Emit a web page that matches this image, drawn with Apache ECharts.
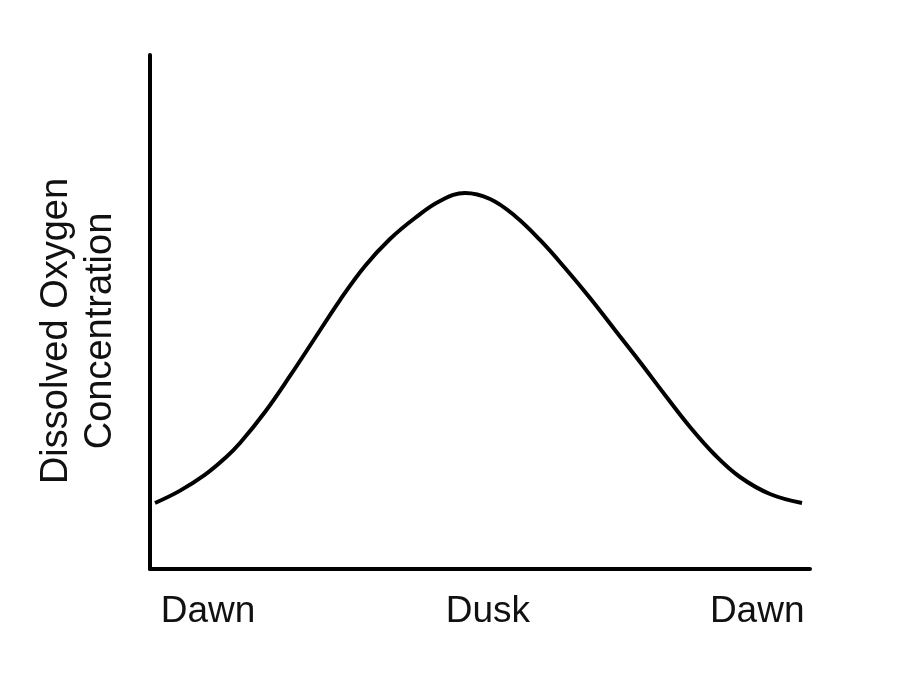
<!DOCTYPE html>
<html>
<head>
<meta charset="utf-8">
<style>
  html, body { margin: 0; padding: 0; background: #fff; }
  #chart { width: 900px; height: 677px; }
</style>
<script src="https://cdn.jsdelivr.net/npm/echarts@6/dist/echarts.min.js"></script>
</head>
<body>
<div id="chart"></div>
<script>
// position along the day (0 = axis start, 100 = axis end)
const timePos = [0.76, 4.5, 8.3, 11.4, 13.64, 17.42, 21.21, 25.0, 28.79, 32.58, 36.36, 40.15, 43.94, 47.73, 51.52, 55.3, 59.09, 62.88, 66.67, 70.45, 74.24, 78.03, 81.82, 85.61, 89.39, 93.94, 98.79]
// dissolved oxygen, relative units
const oxygen = [12.84, 15.2, 18.3, 21.6, 24.51, 30.54, 37.55, 44.94, 52.33, 58.95, 64.2, 68.29, 71.6, 73.15, 71.98, 68.68, 64.01, 58.56, 52.72, 46.5, 40.27, 33.85, 27.63, 22.18, 17.9, 14.59, 12.84]
// x axis tick labels
const tickValues = [8.8, 51.2, 92]
const tickLabels = ['Dawn', 'Dusk', 'Dawn']

const chart = echarts.init(document.getElementById('chart'))

chart.setOption({
  backgroundColor: '#fff',
  animation: false,
  grid: {
    left: 150,
    right: 90,
    top: 55,
    bottom: 108
  },
  xAxis: {
    type: 'value',
    min: 0,
    max: 100,
    splitLine: { show: false },
    axisTick: { show: false },
    axisLine: {
      lineStyle: { color: '#000', width: 4 }
    },
    axisLabel: {
      customValues: tickValues,
      formatter: (val) => tickLabels[tickValues.indexOf(val)],
      color: '#111',
      fontSize: 37,
      fontFamily: 'Liberation Sans, Arial, sans-serif',
      margin: 24
    }
  },
  yAxis: {
    type: 'value',
    min: 0,
    max: 100,
    name: 'Dissolved Oxygen\nConcentration',
    nameLocation: 'middle',
    nameRotate: 90,
    nameGap: 27,
    nameTextStyle: {
      color: '#111',
      fontSize: 38,
      lineHeight: 44,
      fontFamily: 'Liberation Sans, Arial, sans-serif',
      padding: [0, 38, 0, 0]
    },
    splitLine: { show: false },
    axisTick: { show: false },
    axisLabel: { show: false },
    axisLine: {
      show: true,
      lineStyle: { color: '#000', width: 4 }
    }
  },
  series: [
    {
      type: 'line',
      data: timePos.map((t, i) => [t, oxygen[i]]),
      smooth: 0.4,
      showSymbol: false,
      lineStyle: { color: '#000', width: 4 }
    }
  ]
})
</script>
</body>
</html>
